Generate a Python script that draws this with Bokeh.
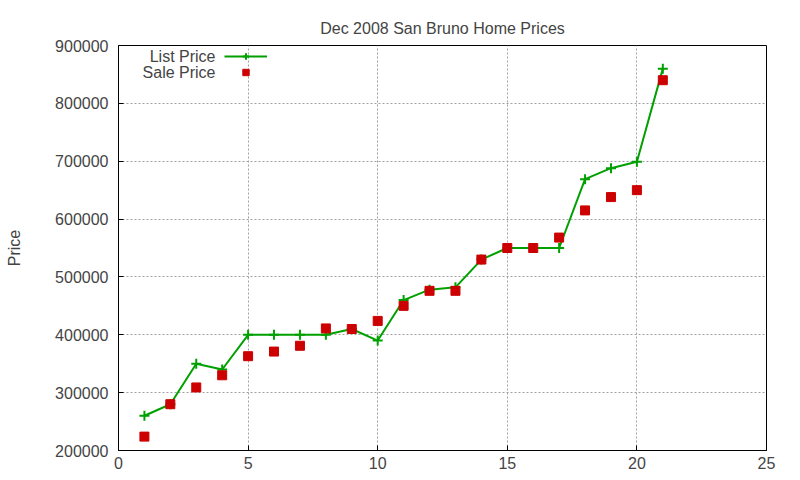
from bokeh.plotting import figure
from bokeh.models import Legend, LegendItem, Label, FixedTicker, NumeralTickFormatter
from bokeh.embed import file_html
from bokeh.resources import INLINE

# house number on the list (1..21), asking price and final sale price
house = list(range(1, 22))
list_price = [260000, 280000, 350000, 340000, 400000, 400000, 400000, 400000, 410000, 390000, 460000,
              478000, 482000, 530000, 550000, 550000, 550000, 669000, 688000, 699000, 860000]
sale_price = [224000, 280000, 309000, 330000, 363000, 371000, 381000, 411000, 410000, 424000, 450000,
              476000, 476000, 530000, 550000, 550000, 568000, 615000, 638000, 650000, 840000]

x_ticks = [0, 5, 10, 15, 20, 25]
y_ticks = [200000, 300000, 400000, 500000, 600000, 700000, 800000, 900000]

FONT = "Liberation Sans"

p = figure(width=800, height=480, x_range=(0, 25), y_range=(200000, 900000),
           title="Dec 2008 San Bruno Home Prices",
           output_backend="svg", toolbar_location=None,
           min_border_left=118, min_border_right=34, min_border_top=45, min_border_bottom=30)

p.title.align = "center"
p.title.vertical_align = "top"
p.title.text_font = FONT
p.title.text_font_size = "16px"
p.title.text_font_style = "normal"
p.title.standoff = 14

p.outline_line_color = "black"
p.outline_line_width = 1

p.xaxis.ticker = FixedTicker(ticks=x_ticks)
p.yaxis.ticker = FixedTicker(ticks=y_ticks)
p.yaxis.formatter = NumeralTickFormatter(format="0")
p.yaxis.axis_label = "Price"
p.yaxis.axis_label_standoff = 29
p.yaxis.axis_label_text_font_style = "normal"
p.yaxis.axis_label_text_font_size = "16px"
p.yaxis.axis_label_text_font = FONT

for ax in (p.xaxis, p.yaxis):
    ax.major_label_text_font = FONT
    ax.major_label_text_font_size = "16px"
    ax.major_tick_out = 0
    ax.major_tick_in = 5
    ax.minor_tick_line_color = None
    ax.axis_line_color = "black"
p.xaxis.major_label_standoff = 6
p.yaxis.major_label_standoff = 10

p.xgrid.ticker = FixedTicker(ticks=x_ticks)
p.ygrid.ticker = FixedTicker(ticks=y_ticks)
for g in (p.xgrid, p.ygrid):
    g.grid_line_color = "#a0a0a0"
    g.grid_line_dash = "2 2"
    g.grid_line_width = 1

ln = p.line(house, list_price, line_color="#00a000", line_width=2)
cr = p.scatter(house, list_price, marker="cross", size=10, line_color="#00a000", line_width=2)
sq = p.scatter(house, sale_price, marker="square", size=9, fill_color="#cc0000", line_color="#cc0000")

# gnuplot style key: text on the left, sample on the right
legend = Legend(items=[LegendItem(label=" ", renderers=[ln, cr]),
                       LegendItem(label=" ", renderers=[sq])],
                location=(106, 370), glyph_width=43, glyph_height=16, label_height=16,
                label_width=0, label_standoff=0, label_text_font_size="16px",
                padding=0, margin=0, spacing=0, border_line_color=None,
                background_fill_alpha=0)
p.add_layout(legend)

for txt, yy in (("List Price", 394), ("Sale Price", 378)):
    p.add_layout(Label(x=97, y=yy, x_units="screen", y_units="screen", text=txt,
                       text_align="right", text_baseline="middle",
                       text_font=FONT, text_font_size="16px"))

open("out.html", "w").write(file_html(p, INLINE))
